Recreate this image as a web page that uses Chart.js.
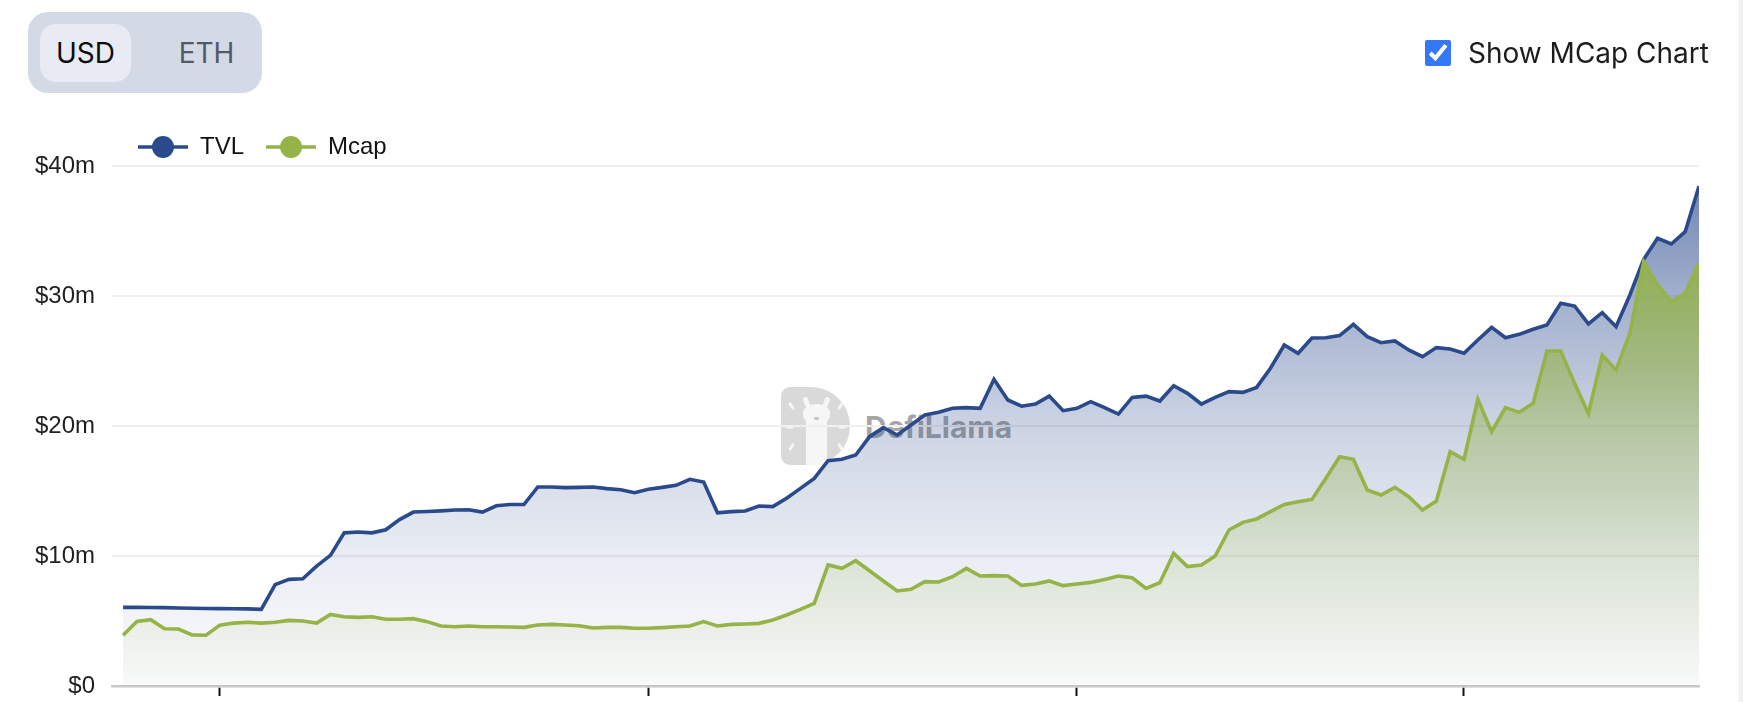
<!DOCTYPE html>
<html>
<head>
<meta charset="utf-8">
<script src="https://cdn.jsdelivr.net/npm/chart.js@4.4.1/dist/chart.umd.min.js"></script>
<style>
  html, body { margin: 0; padding: 0; background: #fff; width: 1750px; height: 702px; overflow: hidden; }
  #page { position: relative; width: 1750px; height: 702px; overflow: hidden; }
  #chart { position: absolute; left: 0; top: 0; z-index: 2; }
  .toggle { position: absolute; left: 28px; top: 12px; width: 234px; height: 81px; border-radius: 20px; background: #d4d9e6; z-index: 3; }
  .toggle .opt { position: absolute; top: 12px; height: 58px; line-height: 58px; text-align: center;
                 font-family: Inter, "Noto Sans", sans-serif; font-size: 28px; font-weight: 400; }
  .toggle .usd { left: 12px; width: 91px; background: #e8ebf3; border-radius: 16px; color: #0d0d0d; }
  .toggle .eth { left: 130px; width: 97px; color: #535a67; }
  #mc { position: absolute; left: 1425px; top: 40px; width: 26px; height: 26px; margin: 0; accent-color: #3478f6; z-index: 3; }
  .mclabel { position: absolute; left: 1468px; top: 36px; line-height: 34px; font-family: Inter, "Noto Sans", sans-serif;
             font-size: 28px; color: #1c1c1c; z-index: 3; white-space: nowrap; }
  .edge { position: absolute; left: 1739px; top: 0; width: 4px; height: 702px; background: #f0f0f0; z-index: 1; }
  .wm { position: absolute; z-index: 1; }
  .wm-d { left: 781px; top: 387px; width: 69px; height: 78px; background: #d0d0d0; border-radius: 9px 39px 39px 9px; opacity: .8; }
  .wm-neck { left: 806px; top: 414px; width: 21px; height: 51px; background: #f6f6f6; }
  .wm-head { left: 803px; top: 404px; width: 27px; height: 20px; background: #f6f6f6; border-radius: 45%; }
  .wm-ear1 { left: 804px; top: 397px; width: 5px; height: 10px; background: #f6f6f6; border-radius: 3px; transform: rotate(-20deg); }
  .wm-ear2 { left: 824px; top: 397px; width: 5px; height: 10px; background: #f6f6f6; border-radius: 3px; transform: rotate(20deg); }
  .wm-nose { left: 814px; top: 417px; width: 5px; height: 3px; background: #c4c4c4; border-radius: 2px; }
  .wm-dash { width: 3px; height: 8px; background: #f6f6f6; border-radius: 2px; }
  .wm-t { left: 865px; top: 412px; font-family: Inter, "Noto Sans", sans-serif; font-weight: 700; font-size: 30px; line-height: 30px;
          color: rgba(140,140,140,0.8); white-space: nowrap; }
</style>
</head>
<body>
<div id="page">
  <div class="wm wm-d"></div>
  <div class="wm wm-neck"></div>
  <div class="wm wm-head"></div>
  <div class="wm wm-ear1"></div>
  <div class="wm wm-ear2"></div>
  <div class="wm wm-nose"></div>
  <div class="wm wm-dash" style="left:790px;top:402px;transform:rotate(-35deg)"></div>
  <div class="wm wm-dash" style="left:788px;top:423px;transform:rotate(90deg)"></div>
  <div class="wm wm-dash" style="left:790px;top:443px;transform:rotate(35deg)"></div>
  <div class="wm wm-dash" style="left:839px;top:402px;transform:rotate(35deg)"></div>
  <div class="wm wm-dash" style="left:841px;top:423px;transform:rotate(90deg)"></div>
  <div class="wm wm-dash" style="left:839px;top:443px;transform:rotate(-35deg)"></div>
  <div class="wm wm-t">DefiLlama</div>

  <canvas id="chart" width="1750" height="740"></canvas>

  <div class="toggle">
    <div class="opt usd">USD</div>
    <div class="opt eth">ETH</div>
  </div>
  <input type="checkbox" id="mc" checked>
  <label class="mclabel" for="mc">Show MCap Chart</label>
  <div class="edge"></div>
</div>
<script>
// ---- data (values in $ millions, one point per day) ----
const startDay = Date.UTC(2022, 10, 24);
const seriesLabels = ['TVL', 'Mcap'];
const tvl = [
  6.05, 6.05, 6.04, 6.03, 6.0, 5.98, 5.96, 5.95, 5.94, 5.93,
  5.9, 7.8, 8.2, 8.25, 9.22, 10.05, 11.78, 11.85, 11.78, 12.02,
  12.8, 13.38, 13.42, 13.47, 13.54, 13.56, 13.38, 13.86, 13.96, 13.96,
  15.31, 15.31, 15.26, 15.28, 15.31, 15.18, 15.1, 14.87, 15.13, 15.28,
  15.44, 15.9, 15.69, 13.32, 13.41, 13.46, 13.85, 13.8, 14.44, 15.2,
  15.97, 17.33, 17.44, 17.77, 19.18, 19.87, 19.31, 20.08, 20.85, 21.05,
  21.36, 21.41, 21.36, 23.59, 22.0, 21.52, 21.69, 22.3, 21.18, 21.36,
  21.87, 21.41, 20.92, 22.2, 22.3, 21.92, 23.1, 22.51, 21.69, 22.2,
  22.64, 22.59, 22.97, 24.44, 26.23, 25.59, 26.77, 26.79, 26.95, 27.82,
  26.87, 26.41, 26.54, 25.85, 25.33, 26.03, 25.92, 25.59, 26.62, 27.59,
  26.79, 27.05, 27.44, 27.77, 29.44, 29.23, 27.85, 28.72, 27.64, 30.08,
  32.82, 34.44, 34.0, 34.95, 38.45
];
const mcap = [
  3.9, 4.97, 5.1, 4.4, 4.38, 3.93, 3.9, 4.68, 4.84, 4.9,
  4.84, 4.9, 5.05, 5.0, 4.84, 5.51, 5.33, 5.28, 5.33, 5.13,
  5.13, 5.18, 4.95, 4.62, 4.56, 4.62, 4.56, 4.56, 4.54, 4.51,
  4.69, 4.74, 4.69, 4.64, 4.46, 4.51, 4.51, 4.44, 4.44, 4.49,
  4.56, 4.62, 4.95, 4.62, 4.74, 4.77, 4.82, 5.08, 5.46, 5.9,
  6.36, 9.31, 9.05, 9.64, 8.87, 8.08, 7.31, 7.44, 8.03, 8.0,
  8.41, 9.05, 8.46, 8.49, 8.46, 7.74, 7.85, 8.08, 7.72, 7.85,
  7.97, 8.2, 8.46, 8.33, 7.51, 7.95, 10.2, 9.18, 9.31, 10.0,
  12.0, 12.59, 12.85, 13.41, 13.97, 14.18, 14.35, 15.97, 17.64, 17.44,
  15.08, 14.69, 15.28, 14.56, 13.54, 14.23, 18.03, 17.44, 22.05, 19.56,
  21.41, 21.05, 21.74, 25.77, 25.77, 23.28, 20.97, 25.46, 24.31, 27.13,
  32.64, 30.85, 29.56, 30.2, 32.55
];
const monthNames = ['Jan','Feb','Mar','Apr','May','Jun','Jul','Aug','Sep','Oct','Nov','Dec'];
const yTickValues = [0, 10, 20, 30, 40];

// ---- derived ----
const dates = tvl.map((_, i) => new Date(startDay + i * 86400000));
const monthStarts = dates.map((d, i) => d.getUTCDate() === 1 ? i : -1).filter(i => i >= 0);
function tickLabel(i) {
  const d = dates[i];
  if (!d) return '';
  return d.getUTCMonth() === 0 ? String(d.getUTCFullYear()) : monthNames[d.getUTCMonth()];
}

const COLORS = { tvl: '#2a4a8c', mcap: '#95b347' };

function areaFill(rgb, stops) {
  return (ctx) => {
    const chart = ctx.chart;
    const a = chart.chartArea;
    if (!a) return 'rgba(' + rgb + ',0.2)';
    const g = chart.ctx.createLinearGradient(0, a.top, 0, a.bottom);
    stops.forEach(([t, al]) => g.addColorStop(t, 'rgba(' + rgb + ',' + al + ')'));
    return g;
  };
}

function legendIcon(color) {
  const c = document.createElement('canvas');
  c.width = 50; c.height = 26;
  const g = c.getContext('2d');
  g.strokeStyle = color; g.lineWidth = 3.5;
  g.beginPath(); g.moveTo(0, 13); g.lineTo(50, 13); g.stroke();
  g.fillStyle = color;
  g.beginPath(); g.arc(25, 13, 11, 0, Math.PI * 2); g.fill();
  return c;
}
const icons = [legendIcon(COLORS.tvl), legendIcon(COLORS.mcap)];

const legendShift = {
  id: 'legendShift',
  afterLayout(chart) {
    if (chart.legend) { chart.legend.left = 116; chart.legend.top = 113; }
  }
};

Chart.defaults.font.family = "'Liberation Sans', Arial, Helvetica, sans-serif";

new Chart(document.getElementById('chart'), {
  type: 'line',
  data: {
    datasets: [
      {
        label: seriesLabels[0],
        data: tvl.map((v, i) => ({ x: i, y: v })),
        borderColor: COLORS.tvl,
        borderWidth: 3.6,
        pointRadius: 0,
        tension: 0,
        fill: 'origin',
        backgroundColor: areaFill('42,74,140', [[0, 0.72], [0.1, 0.6], [0.25, 0.44], [0.5, 0.24], [0.75, 0.1], [1, 0.02]]),
        order: 1
      },
      {
        label: seriesLabels[1],
        data: mcap.map((v, i) => ({ x: i, y: v })),
        borderColor: COLORS.mcap,
        borderWidth: 3.6,
        pointRadius: 0,
        tension: 0,
        fill: 'origin',
        backgroundColor: areaFill('149,179,71', [[0, 0.95], [0.2, 0.85], [0.5, 0.42], [0.75, 0.18], [1, 0.02]]),
        order: 0
      }
    ]
  },
  options: {
    responsive: false,
    animation: false,
    events: [],
    layout: { padding: { top: 110, right: 51, left: 0, bottom: 0 } },
    plugins: {
      tooltip: { enabled: false },
      legend: {
        display: true,
        position: 'top',
        align: 'start',
        labels: {
          usePointStyle: true,
          pointStyleWidth: 50,
          padding: 22,
          color: '#111',
          font: { size: 24 },
          sort: (a, b) => a.datasetIndex - b.datasetIndex,
          generateLabels: (chart) => {
            const items = Chart.defaults.plugins.legend.labels.generateLabels(chart);
            items.forEach(it => { it.pointStyle = icons[it.datasetIndex]; });
            return items;
          }
        }
      }
    },
    scales: {
      x: {
        type: 'linear',
        min: -0.8,
        max: tvl.length - 1,
        afterBuildTicks: (s) => { s.ticks = monthStarts.map(v => ({ value: v })); },
        afterFit: (s) => { s.height = 54; },
        ticks: {
          autoSkip: false, maxRotation: 0, padding: 3,
          color: '#222', font: { size: 24 },
          callback: (v) => tickLabel(v)
        },
        grid: { drawOnChartArea: false, drawTicks: true, tickLength: 10, tickColor: '#111', tickWidth: 2 },
        border: { display: true, color: '#c8c8c8', width: 2.5 }
      },
      y: {
        min: 0,
        max: 40,
        afterBuildTicks: (s) => { s.ticks = yTickValues.map(v => ({ value: v })); },
        afterFit: (s) => { s.width = 112; },
        ticks: {
          padding: 17,
          color: '#1f1f1f',
          font: { size: 24 },
          callback: (v) => v === 0 ? '$0' : '$' + v + 'm'
        },
        grid: { color: '#efefef', lineWidth: 2, drawTicks: false },
        border: { display: false }
      }
    }
  },
  plugins: [legendShift]
});
</script>
</body>
</html>
